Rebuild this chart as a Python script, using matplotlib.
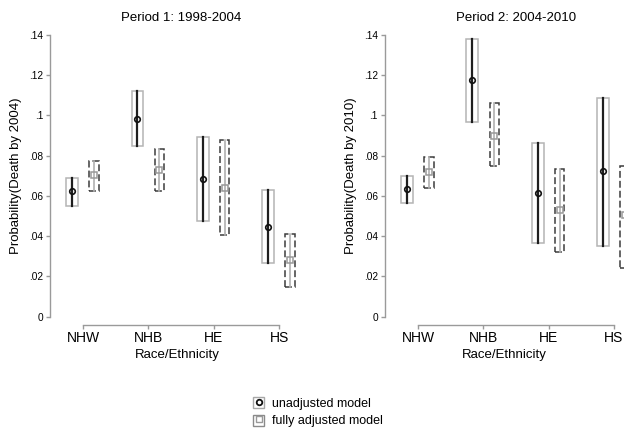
import numpy as np
import matplotlib.pyplot as plt
from matplotlib.patches import Rectangle, Patch
from matplotlib.lines import Line2D
from matplotlib.legend_handler import HandlerTuple

plt.rcParams['font.family'] = ['Liberation Sans', 'DejaVu Sans']

# данные
groups = ["NHW", "NHB", "HE", "HS"]
yticks = [0, 0.02, 0.04, 0.06, 0.08, 0.10, 0.12, 0.14]
ytick_labels = ["0", ".02", ".04", ".06", ".08", ".1", ".12", ".14"]

# Period 1: 1998-2004
p1_unadj = [0.0627, 0.0984, 0.0685, 0.0448]
p1_unadj_lo = [0.0552, 0.0846, 0.0476, 0.0266]
p1_unadj_hi = [0.0690, 0.1124, 0.0893, 0.0630]
p1_adj = [0.0706, 0.0730, 0.0640, 0.0282]
p1_adj_lo = [0.0625, 0.0627, 0.0406, 0.0146]
p1_adj_hi = [0.0775, 0.0833, 0.0876, 0.0413]

# Period 2: 2004-2010
p2_unadj = [0.0637, 0.1174, 0.0614, 0.0723]
p2_unadj_lo = [0.0567, 0.0969, 0.0365, 0.0352]
p2_unadj_hi = [0.0697, 0.1382, 0.0863, 0.1088]
p2_adj = [0.0718, 0.0896, 0.0531, 0.0504]
p2_adj_lo = [0.0642, 0.0750, 0.0320, 0.0244]
p2_adj_hi = [0.0793, 0.1062, 0.0735, 0.0751]

W, H = 624, 430
fig = plt.figure(figsize=(W / 100, H / 100), dpi=100)

spine_col = "#9a9a9a"
off = 0.168


def draw_panel(ax, est, lo, hi, aest, alo, ahi, ylabel):
    x = np.arange(1, len(groups) + 1)
    for i in range(len(groups)):
        # unadjusted: серый прямоугольник + черная линия + кружок
        xu = x[i] - off
        ax.add_patch(Rectangle((xu - 0.09, lo[i]), 0.18, hi[i] - lo[i],
                               facecolor="white", edgecolor="#b4b4b4", lw=1.1, zorder=2))
        ax.plot([xu, xu], [lo[i], hi[i]], color="#1e1e1e", lw=1.6, zorder=3)
        ax.plot(xu, est[i], "o", ms=4.0, mec="#111111", mfc="none", mew=1.2, zorder=4)
        # adjusted: пунктирный прямоугольник + серая линия + квадрат
        xa = x[i] + off
        ax.add_patch(Rectangle((xa - 0.072, alo[i]), 0.144, ahi[i] - alo[i],
                               facecolor="none", edgecolor="#3c3c3c", lw=1.1,
                               linestyle=(0, (4.5, 2.0)), zorder=2))
        ax.plot([xa, xa], [alo[i], ahi[i]], color="#b0b0b0", lw=1.2, zorder=3)
        ax.plot(xa, aest[i], "s", ms=3.8, mec="#999999", mfc="none", mew=1.1, zorder=4)

    ax.set_ylim(0, 0.14)
    ax.set_yticks(yticks)
    ax.set_yticklabels(ytick_labels, fontsize=7.3)
    ax.set_xticks(x)
    ax.set_xticklabels(groups, fontsize=9.5)
    for s in ["top", "right"]:
        ax.spines[s].set_visible(False)
    ax.spines["left"].set_color(spine_col)
    ax.spines["bottom"].set_color(spine_col)
    ax.spines["left"].set_linewidth(1.0)
    ax.spines["bottom"].set_linewidth(1.0)
    ax.spines["bottom"].set_position(("outward", 6))
    ax.spines["bottom"].set_bounds(1, 4)
    ax.tick_params(axis="y", length=3, width=1.0, color=spine_col, pad=2)
    ax.tick_params(axis="x", length=3, width=1.0, color=spine_col, pad=1.5)
    ax.set_xlabel("Race/Ethnicity", fontsize=9.5, labelpad=3)
    ax.set_ylabel(ylabel, fontsize=9.5, labelpad=5)
    ax.patch.set_visible(False)


ybot = (H - 316.7) / H
yh = 281.7 / H

ax1 = fig.add_axes([50 / W, ybot, 255 / W, yh])
ax1.set_xlim(1 - 33 / 65.4, 1 + 255 / 65.4 - 33 / 65.4)
draw_panel(ax1, p1_unadj, p1_unadj_lo, p1_unadj_hi, p1_adj, p1_adj_lo, p1_adj_hi,
           "Probability(Death by 2004)")

ax2 = fig.add_axes([384.7 / W, ybot, (W - 384.7) / W, yh])
ax2.set_xlim(1 - 33.3 / 65.3, 1 + (W - 384.7) / 65.3 - 33.3 / 65.3)
draw_panel(ax2, p2_unadj, p2_unadj_lo, p2_unadj_hi, p2_adj, p2_adj_lo, p2_adj_hi,
           "Probability(Death by 2010)")

fig.text(181.5 / W, 1 - 18 / H, "Period 1: 1998-2004", ha="center", va="center", fontsize=9.5)
fig.text(516 / W, 1 - 18 / H, "Period 2: 2004-2010", ha="center", va="center", fontsize=9.5)

# легенда
h1 = (Patch(facecolor="white", edgecolor="#a8a8a8", lw=1.0),
      Line2D([], [], marker="o", ls="none", ms=4.0, mec="#111111", mfc="white", mew=1.3))
h2 = (Patch(facecolor="white", edgecolor="#8a8a8a", lw=1.0),
      Line2D([], [], marker="s", ls="none", ms=4.0, mec="#999999", mfc="white", mew=1.0))
fig.legend([h1, h2], ["unadjusted model", "fully adjusted model"],
           handler_map={tuple: HandlerTuple(ndivide=1)},
           loc="center", bbox_to_anchor=(318 / W, 1 - 412 / H), frameon=False,
           fontsize=9, handlelength=0.9, handleheight=1.0, handletextpad=0.6,
           labelspacing=0.4)

fig.savefig("out.png", dpi=100, facecolor="white")
